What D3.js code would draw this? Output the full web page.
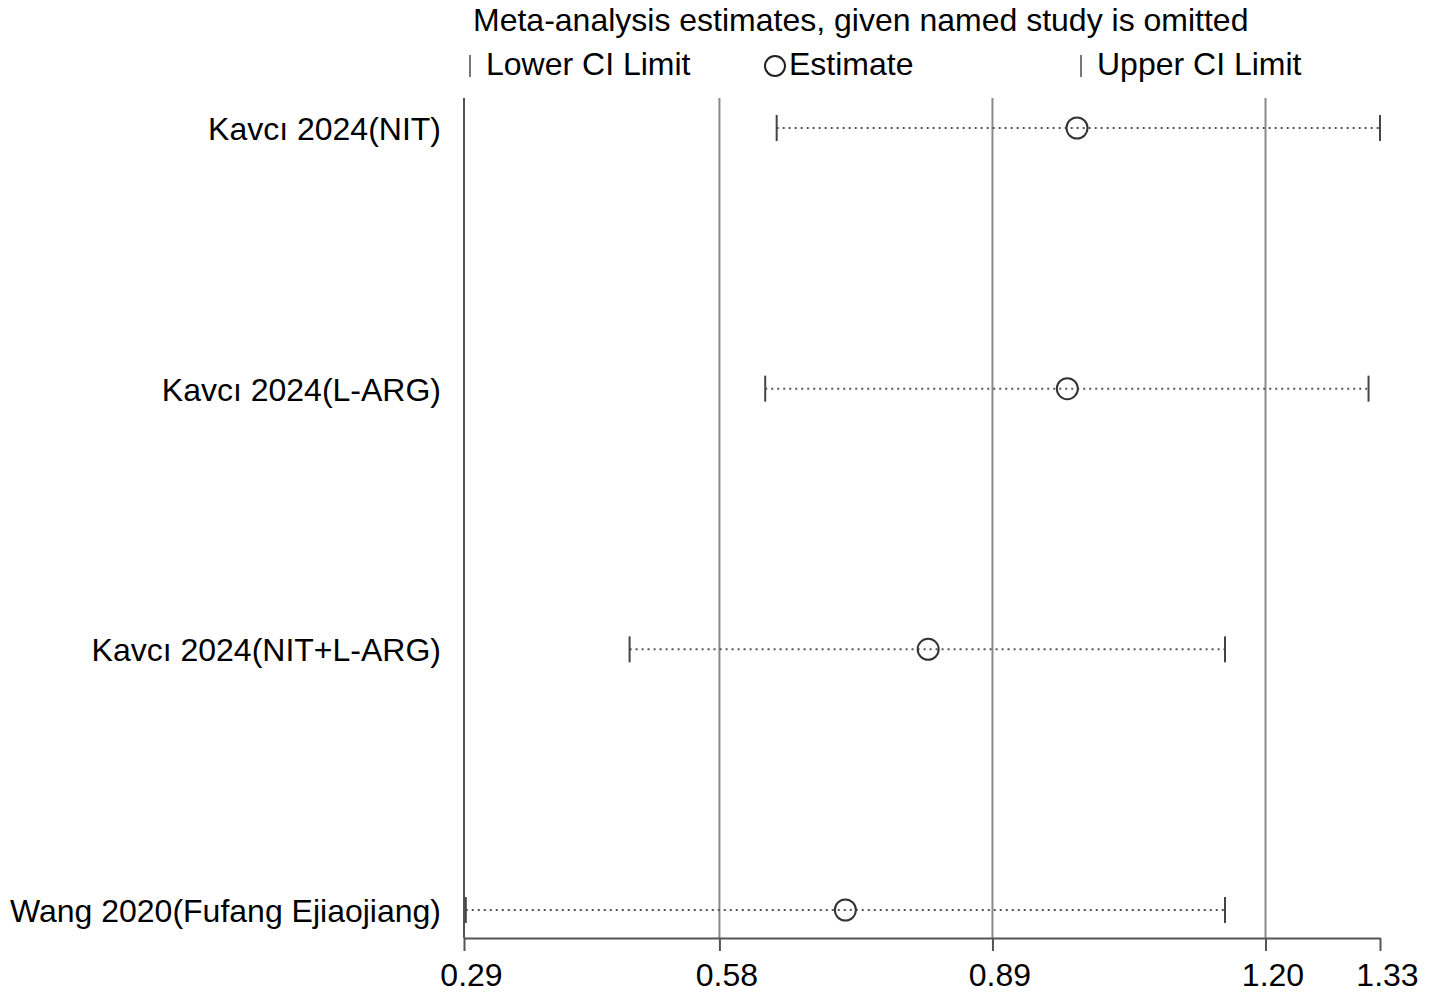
<!DOCTYPE html>
<html>
<head>
<meta charset="utf-8">
<script src="https://cdn.jsdelivr.net/npm/d3@7"></script>
<style>
html,body{margin:0;padding:0;background:#fff;}
svg{display:block;}
text{font-family:"Liberation Sans",Arial,Helvetica,sans-serif;fill:#000;}
</style>
</head>
<body>
<svg id="chart" width="1429" height="996"></svg>
<script>
const studies = ["Kavcı 2024(NIT)", "Kavcı 2024(L-ARG)", "Kavcı 2024(NIT+L-ARG)", "Wang 2020(Fufang Ejiaojiang)"];
const lower = [0.645, 0.632, 0.478, 0.292];
const estimate = [0.986, 0.975, 0.817, 0.723];
const upper = [1.330, 1.317, 1.154, 1.154];
const tickValues = [0.29, 0.58, 0.89, 1.20, 1.33];
const tickLabels = ["0.29", "0.58", "0.89", "1.20", "1.33"];
const gridValues = [0.58, 0.89, 1.20];
const titleText = "Meta-analysis estimates, given named study is omitted";
const legendLabels = ["Lower CI Limit", "Estimate", "Upper CI Limit"];

(function () {
const svg = d3.select("#chart");
const pL = 464, pR = 1380, pT = 98, pB = 938;

const x = d3.scaleLinear().domain([0.29, 1.33]).range([pL, pR]);
const y = d3.scalePoint().domain(studies).range([128, 910]);

// gridlines
svg.append("g").selectAll("line").data(gridValues).join("line")
  .attr("x1", d => x(d)).attr("x2", d => x(d))
  .attr("y1", pT).attr("y2", pB)
  .attr("stroke", "#8a8a8a").attr("stroke-width", 2);

// left axis line
svg.append("line").attr("x1", pL).attr("x2", pL).attr("y1", pT).attr("y2", pB)
  .attr("stroke", "#555").attr("stroke-width", 2);

// bottom axis
const axis = d3.axisBottom(x).tickValues(tickValues)
  .tickFormat((d, i) => tickLabels[i]).tickSize(13).tickSizeOuter(0).tickPadding(12);
const ag = svg.append("g").attr("transform", `translate(0,${pB})`).call(axis);
ag.select(".domain").attr("stroke", "#555").attr("stroke-width", 2);
ag.selectAll(".tick line").attr("stroke", "#555").attr("stroke-width", 2);
ag.selectAll(".tick text").attr("font-size", 32).attr("fill", "#000").attr("dx", 7)
  .attr("font-family", "Liberation Sans, Arial, sans-serif");

// rows
const rows = svg.append("g").selectAll("g").data(studies).join("g");
rows.append("line")
  .attr("x1", (d, i) => x(lower[i])).attr("x2", (d, i) => x(upper[i]))
  .attr("y1", d => y(d)).attr("y2", d => y(d))
  .attr("stroke", "#555").attr("stroke-width", 2).attr("stroke-dasharray", "2,4");
rows.append("line")
  .attr("x1", (d, i) => x(lower[i])).attr("x2", (d, i) => x(lower[i]))
  .attr("y1", d => y(d) - 13).attr("y2", d => y(d) + 13)
  .attr("stroke", "#444").attr("stroke-width", 2);
rows.append("line")
  .attr("x1", (d, i) => x(upper[i])).attr("x2", (d, i) => x(upper[i]))
  .attr("y1", d => y(d) - 13).attr("y2", d => y(d) + 13)
  .attr("stroke", "#444").attr("stroke-width", 2);
rows.append("circle")
  .attr("cx", (d, i) => x(estimate[i])).attr("cy", d => y(d)).attr("r", 10.5)
  .attr("fill", "none").attr("stroke", "#333").attr("stroke-width", 2);
rows.append("text")
  .attr("x", 441).attr("y", d => y(d) + 12)
  .attr("text-anchor", "end").attr("font-size", 32)
  .text(d => d);

// title
svg.append("text").attr("x", 473).attr("y", 31).attr("font-size", 32).text(titleText);

// legend
const lg = svg.append("g");
lg.append("line").attr("x1", 470).attr("x2", 470).attr("y1", 55).attr("y2", 77)
  .attr("stroke", "#777").attr("stroke-width", 2);
lg.append("text").attr("x", 486).attr("y", 75).attr("font-size", 32).text(legendLabels[0]);
lg.append("circle").attr("cx", 775).attr("cy", 66).attr("r", 10)
  .attr("fill", "none").attr("stroke", "#222").attr("stroke-width", 2);
lg.append("text").attr("x", 789).attr("y", 75).attr("font-size", 32).text(legendLabels[1]);
lg.append("line").attr("x1", 1081).attr("x2", 1081).attr("y1", 55).attr("y2", 77)
  .attr("stroke", "#777").attr("stroke-width", 2);
lg.append("text").attr("x", 1097).attr("y", 75).attr("font-size", 32).text(legendLabels[2]);
})();
</script>
</body>
</html>
